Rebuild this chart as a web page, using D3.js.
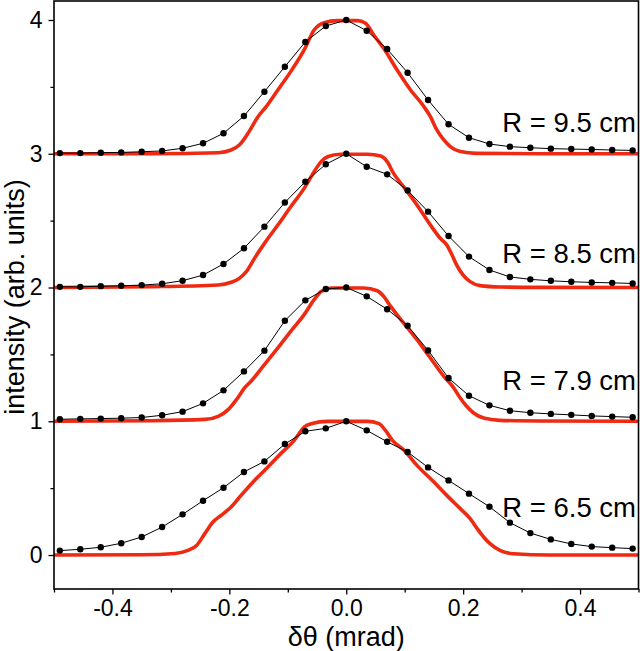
<!DOCTYPE html>
<html><head><meta charset="utf-8">
<script src="https://cdn.jsdelivr.net/npm/d3@7"></script>
<style>body{margin:0;background:#fff}svg text{font-family:"Liberation Sans",Arial,sans-serif;fill:#000}</style>
</head><body><svg id="c" width="640" height="651"></svg>
<script>
// measured points (black dots)
const dotX = [-0.49,-0.455,-0.42,-0.385,-0.35,-0.315,-0.28,-0.245,-0.21,-0.175,-0.14,-0.105,-0.07,-0.035,0,
  0.035,0.07,0.105,0.14,0.175,0.21,0.245,0.28,0.315,0.35,0.385,0.42,0.455,0.49];
const dots95 = [3.005,3.005,3.008,3.010,3.015,3.021,3.041,3.078,3.153,3.282,3.464,3.651,3.836,3.955,4.0,3.92,3.783,3.606,3.402,3.22,3.12,3.073,3.053,3.045,3.038,3.035,3.032,3.028,3.025];
const dots85 = [2.005,2.005,2.010,2.013,2.018,2.028,2.051,2.093,2.176,2.293,2.455,2.636,2.791,2.921,3.0,2.903,2.846,2.726,2.567,2.385,2.231,2.131,2.079,2.061,2.05,2.043,2.038,2.035,2.03];
const dots79 = [1.015,1.018,1.020,1.023,1.028,1.045,1.072,1.134,1.231,1.373,1.528,1.752,1.904,1.989,2.0,1.934,1.837,1.715,1.53,1.323,1.191,1.119,1.079,1.064,1.055,1.048,1.04,1.035,1.03];
const dots65 = [0.033,0.043,0.058,0.088,0.135,0.209,0.304,0.406,0.503,0.621,0.70,0.83,0.925,0.947,1.0,0.932,0.847,0.77,0.655,0.558,0.459,0.361,0.242,0.164,0.117,0.083,0.063,0.055,0.048];

// simulated profiles (red curves)
const red95X = [-0.5,-0.333,-0.219,-0.197,-0.183,-0.168,-0.151,-0.137,-0.117,-0.095,-0.072,-0.055,-0.038,-0.015,0.019,0.033,0.047,0.064,0.087,0.110,0.133,0.144,0.155,0.167,0.178,0.195,0.223,0.331,0.5];
const red95Y = [3.0,3.0,3.008,3.028,3.065,3.153,3.277,3.352,3.477,3.614,3.776,3.925,3.98,3.995,3.995,3.975,3.888,3.788,3.626,3.477,3.352,3.277,3.178,3.103,3.053,3.016,3.003,3.0,3.0];
const red85X = [-0.5,-0.333,-0.219,-0.197,-0.183,-0.171,-0.157,-0.140,-0.117,-0.095,-0.072,-0.055,-0.043,-0.032,-0.010,0.036,0.059,0.070,0.081,0.098,0.121,0.144,0.161,0.172,0.181,0.189,0.200,0.212,0.229,0.263,0.331,0.5];
const red85Y = [2.0,2.006,2.019,2.039,2.068,2.118,2.218,2.33,2.467,2.604,2.741,2.866,2.941,2.978,2.996,2.996,2.983,2.941,2.853,2.754,2.617,2.467,2.367,2.318,2.243,2.168,2.093,2.044,2.014,2.004,2.001,2.0];
const red79X = [-0.5,-0.333,-0.242,-0.219,-0.202,-0.188,-0.174,-0.163,-0.140,-0.117,-0.095,-0.072,-0.055,-0.043,-0.026,0.030,0.053,0.064,0.076,0.098,0.121,0.144,0.167,0.184,0.195,0.206,0.218,0.235,0.263,0.331,0.5];
const red79Y = [1.0,1.004,1.014,1.037,1.087,1.161,1.249,1.299,1.423,1.548,1.672,1.797,1.909,1.971,1.996,1.996,1.976,1.934,1.859,1.735,1.61,1.473,1.336,1.249,1.174,1.112,1.062,1.024,1.007,1.002,1.0];
const red65X = [-0.5,-0.350,-0.293,-0.271,-0.256,-0.242,-0.228,-0.214,-0.197,-0.180,-0.157,-0.134,-0.112,-0.089,-0.072,-0.060,-0.032,0.036,0.056,0.067,0.079,0.099,0.121,0.150,0.172,0.195,0.212,0.224,0.235,0.246,0.263,0.286,0.348,0.5];
const red65Y = [0.0,0.002,0.012,0.035,0.072,0.16,0.247,0.297,0.359,0.446,0.558,0.658,0.758,0.857,0.957,0.982,0.999,0.999,0.982,0.932,0.857,0.783,0.67,0.546,0.446,0.347,0.272,0.197,0.135,0.085,0.035,0.01,0.0,0.0];

const labels = ["R = 9.5 cm","R = 8.5 cm","R = 7.9 cm","R = 6.5 cm"];
const labelY = [3.165,2.181,1.236,0.284];
const xTicks = [-0.4,-0.2,0.0,0.2,0.4];
const xMinor = [-0.5,-0.3,-0.1,0.1,0.3,0.5];
const yTicks = [0,1,2,3,4];
const yMinor = [0.5,1.5,2.5,3.5];

const svg = d3.select("#c");
const L=54, R=638.5, T=1, B=589;
const x = d3.scaleLinear().domain([-0.5,0.5]).range([L,R]);
const y = d3.scaleLinear().domain([-0.254,4.142]).range([B,T]);

svg.append("clipPath").attr("id","pc").append("rect")
  .attr("x",L).attr("y",T).attr("width",R-L).attr("height",B-T);
const g = svg.append("g").attr("clip-path","url(#pc)");

const line = d3.line().x(d=>x(d[0])).y(d=>y(d[1])).curve(d3.curveMonotoneX);
const reds = [[red95X,red95Y],[red85X,red85Y],[red79X,red79Y],[red65X,red65Y]];
reds.forEach(([xs,ys])=>{
  g.append("path").datum(xs.map((v,i)=>[v,ys[i]]))
   .attr("d",line).attr("fill","none").attr("stroke","#ee2a12")
   .attr("stroke-width",3.6).attr("stroke-linejoin","round");
});
const lin = d3.line().x(d=>x(d[0])).y(d=>y(d[1]));
[dots95,dots85,dots79,dots65].forEach(ys=>{
  const pts = dotX.map((v,i)=>[v,ys[i]]);
  g.append("path").datum(pts).attr("d",lin).attr("fill","none").attr("stroke","#000").attr("stroke-width",1);
  g.selectAll(null).data(pts).enter().append("circle")
   .attr("cx",d=>x(d[0])).attr("cy",d=>y(d[1])).attr("r",3.2).attr("fill","#000");
});

// axes
const xa = svg.append("g").attr("transform",`translate(0,${B})`)
  .call(d3.axisBottom(x).tickValues(xTicks).tickFormat(d3.format(".1f")).tickSize(5.5).tickPadding(5));
svg.append("g").attr("transform",`translate(0,${B})`)
  .call(d3.axisBottom(x).tickValues(xMinor).tickFormat("").tickSize(3.5));
const ya = svg.append("g").attr("transform",`translate(${L},0)`)
  .call(d3.axisLeft(y).tickValues(yTicks).tickFormat(d3.format("d")).tickSize(5.5).tickPadding(6));
svg.append("g").attr("transform",`translate(${L},0)`)
  .call(d3.axisLeft(y).tickValues(yMinor).tickFormat("").tickSize(3.5));
svg.selectAll(".domain").remove();
svg.selectAll(".tick line").attr("stroke","#000").attr("stroke-width",1.3);
xa.selectAll("text").attr("font-size",23).text(d=>d3.format(".1f")(d).replace("−","-"));
ya.selectAll("text").attr("font-size",23);

svg.append("rect").attr("x",L).attr("y",T).attr("width",R-L).attr("height",B-T)
  .attr("fill","none").attr("stroke","#000").attr("stroke-width",1.6);

labels.forEach((t,i)=>{
  svg.append("text").attr("x",636).attr("y",y(labelY[i])).attr("text-anchor","end")
    .attr("font-size",27.5).text(t);
});

svg.append("text").attr("x",(L+R)/2).attr("y",646).attr("text-anchor","middle")
  .attr("font-size",27).text("δθ (mrad)");
svg.append("text").attr("transform",`translate(24,297) rotate(-90)`)
  .attr("text-anchor","middle").attr("font-size",27).text("intensity (arb. units)");
</script></body></html>
